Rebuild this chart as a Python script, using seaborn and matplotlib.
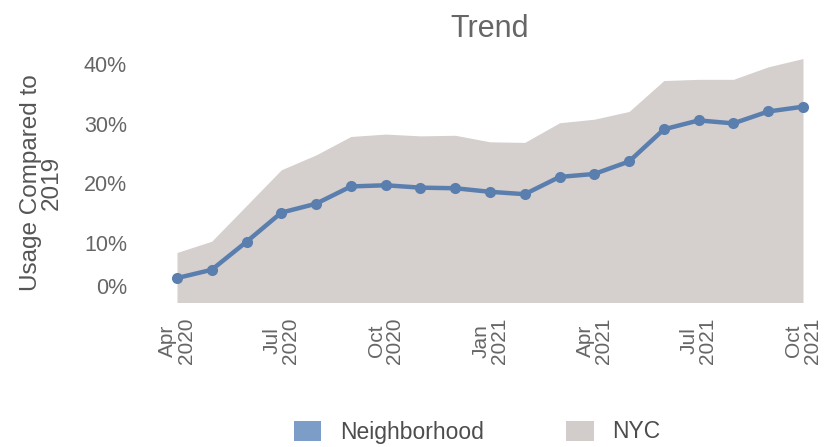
import matplotlib
matplotlib.use("Agg")
import matplotlib.pyplot as plt
from matplotlib.patches import Patch
from matplotlib.transforms import ScaledTranslation
import seaborn as sns
import pandas as pd

# Monthly usage compared to the same month of 2019 (percent)
months = ["Apr 2020", "May 2020", "Jun 2020", "Jul 2020", "Aug 2020", "Sep 2020",
          "Oct 2020", "Nov 2020", "Dec 2020", "Jan 2021", "Feb 2021", "Mar 2021",
          "Apr 2021", "May 2021", "Jun 2021", "Jul 2021", "Aug 2021", "Sep 2021",
          "Oct 2021"]
neighborhood = [4.1, 5.5, 10.2, 15.1, 16.6, 19.5, 19.7, 19.3, 19.2, 18.6, 18.2,
                21.1, 21.6, 23.7, 29.1, 30.6, 30.1, 32.1, 32.9]
nyc = [8.4, 10.3, 16.3, 22.3, 24.8, 27.9, 28.3, 28.0, 28.1, 27.0, 26.9,
       30.2, 30.8, 32.1, 37.3, 37.5, 37.5, 39.6, 41.0]

tick_labels = ["Apr\n2020", "Jul\n2020", "Oct\n2020", "Jan\n2021",
               "Apr\n2021", "Jul\n2021", "Oct\n2021"]
y_ticks = [0, 10, 20, 30, 40]

sns.set_style("white")
plt.rcParams["font.family"] = ["Liberation Sans", "DejaVu Sans"]

df = pd.DataFrame({"idx": range(len(months)), "month": months,
                   "Neighborhood": neighborhood, "NYC": nyc})

line_blue = "#5a7eae"
fill_grey = "#d5cfce"
text_grey = "#666666"

fig = plt.figure(figsize=(8.36, 4.47), dpi=100)
ax = fig.add_axes([0.2117, 0.3233, 0.7488, 0.5724])

ax.fill_between(df["idx"], 0, df["NYC"], color=fill_grey, linewidth=0, zorder=1)
sns.lineplot(data=df, x="idx", y="Neighborhood", ax=ax, color=line_blue,
             linewidth=3.2, marker="o", markersize=8, markeredgewidth=0,
             zorder=3, clip_on=False)

ax.set_xlim(0, len(months) - 1)
ax.set_ylim(0, 43)
ax.set_xticks(range(0, len(months), 3))
ax.set_xticklabels(tick_labels, rotation=90, fontsize=15, color=text_grey,
                   linespacing=0.95)
ax.set_yticks(y_ticks)
ax.set_yticklabels([f"{v}%" for v in y_ticks], fontsize=15.5, color=text_grey)
ax.tick_params(axis="y", length=0, pad=36)
ax.tick_params(axis="x", length=0, pad=11)

# lift the baseline label a little above the axis floor
lbl0 = ax.get_yticklabels()[0]
lbl0.set_transform(lbl0.get_transform() +
                   ScaledTranslation(0, 12 / 72, fig.dpi_scale_trans))

for s in ax.spines.values():
    s.set_visible(False)

ax.set_xlabel("")
ax.set_ylabel("Usage Compared to\n2019", fontsize=17.5, color="#555555",
              linespacing=0.9)
ax.yaxis.set_label_coords(-0.183, 0.467)

ax.set_title("Trend", fontsize=22, color=text_grey, pad=7)

handles = [Patch(facecolor="#7b9dc8", edgecolor="none", label="Neighborhood"),
           Patch(facecolor="#d2cccb", edgecolor="none", label="NYC")]
fig.legend(handles=handles, loc="center", bbox_to_anchor=(477 / 836, 1 - 432 / 447),
           ncol=2, frameon=False, fontsize=16.5, handlelength=1.2,
           handleheight=0.95, handletextpad=0.8, columnspacing=3.6,
           labelcolor="#4d4d4d")

fig.savefig("out.png", dpi=100)
